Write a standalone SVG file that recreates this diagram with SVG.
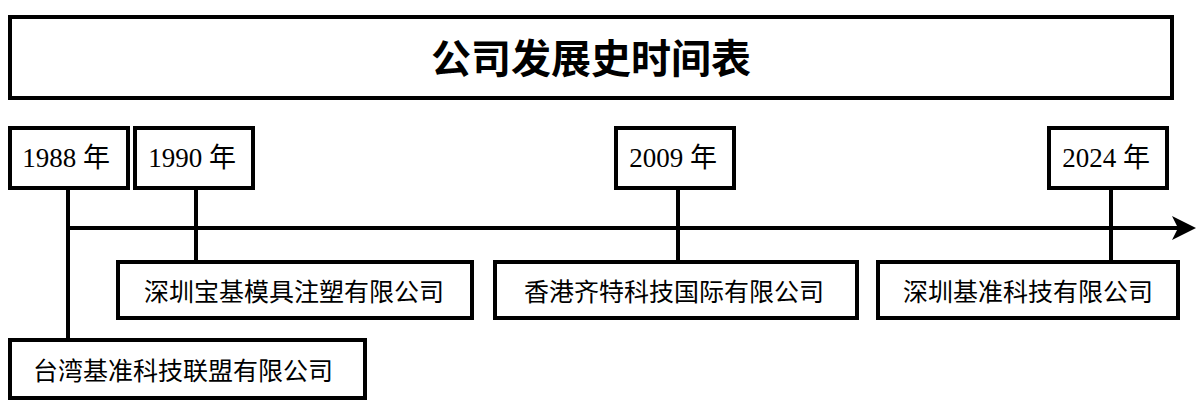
<svg xmlns="http://www.w3.org/2000/svg" width="1200" height="415" viewBox="0 0 1200 415">
<defs>
<style>
.b{fill:#fff;stroke:#000;stroke-width:4}
.t{font-family:"Liberation Serif","Noto Sans CJK SC",serif;font-size:27px;fill:#000;text-anchor:middle;dominant-baseline:central}
.c{font-family:"Noto Sans CJK SC",sans-serif;font-size:25px;fill:#000;text-anchor:middle;dominant-baseline:central}
.l{stroke:#000;stroke-width:4;fill:none}
</style>
</defs>
<rect width="1200" height="415" fill="#fff"/>
<g id="connectors">
<line class="l" x1="68" y1="228" x2="1180" y2="228"/>
<path d="M1172,216L1196,228L1172,240L1178,228z"/>
<line class="l" x1="68" y1="188" x2="68" y2="340"/>
<line class="l" x1="196" y1="188" x2="196" y2="262"/>
<line class="l" x1="678" y1="188" x2="678" y2="262"/>
<line class="l" x1="1111" y1="188" x2="1111" y2="262"/>
</g>
<g id="title"><rect class="b" x="10" y="17" width="1162" height="81"/><text class="c" x="591" y="56" style="font-size:40px;font-weight:bold">公司发展史时间表</text></g>
<g id="y1988"><rect class="b" x="10" y="128" width="118" height="60"/><text class="t" x="66" y="158">1988 年</text></g>
<g id="y1990"><rect class="b" x="135" y="128" width="118" height="60"/><text class="t" x="192" y="158">1990 年</text></g>
<g id="y2009"><rect class="b" x="616" y="128" width="118" height="60"/><text class="t" x="673" y="158">2009 年</text></g>
<g id="y2024"><rect class="b" x="1049" y="128" width="118" height="60"/><text class="t" x="1106" y="158">2024 年</text></g>
<g id="c1"><rect class="b" x="118" y="262" width="354" height="56"/><text class="c" x="294" y="290">深圳宝基模具注塑有限公司</text></g>
<g id="c2"><rect class="b" x="495" y="262" width="362" height="56"/><text class="c" x="674" y="290">香港齐特科技国际有限公司</text></g>
<g id="c3"><rect class="b" x="878" y="262" width="300" height="56"/><text class="c" x="1028" y="290">深圳基准科技有限公司</text></g>
<g id="c4"><rect class="b" x="10" y="340" width="355" height="58"/><text class="c" x="183" y="369">台湾基准科技联盟有限公司</text></g>
</svg>
